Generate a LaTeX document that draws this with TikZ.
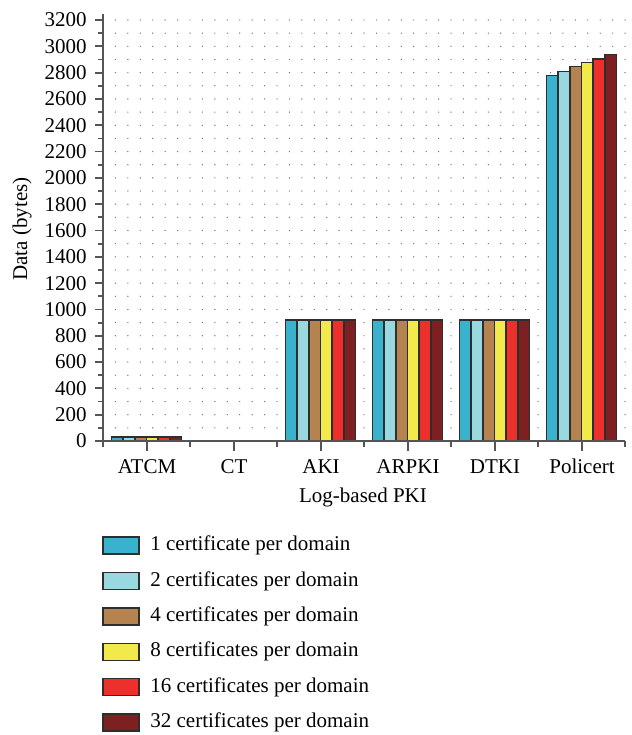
\documentclass[tikz,border=0pt]{standalone}
\usepackage{fontspec}
\setmainfont{Liberation Serif}
\definecolor{cA}{HTML}{3AB1CD}
\definecolor{cB}{HTML}{9AD8E0}
\definecolor{cC}{HTML}{B5834F}
\definecolor{cD}{HTML}{F2E94A}
\definecolor{cE}{HTML}{EE302C}
\definecolor{cF}{HTML}{7E2022}
\definecolor{axisgray}{HTML}{555555}
\definecolor{edgegray}{HTML}{2E2E2E}
\tikzset{
  axisline/.style={draw=axisgray, line width=1.1pt},
  tickline/.style={draw=axisgray, line width=0.9pt},
  barbox/.style={draw=edgegray, line width=0.7pt},
  ticklabel/.style={anchor=east, inner sep=0pt},
  catlabel/.style={anchor=base, inner sep=0pt},
}
\begin{document}
\begin{tikzpicture}[x=0.5pt, y=-0.5pt,
  font=\fontsize{10.5}{12}\selectfont,
  declare function={yv(\v)=441-0.1315625*\v;}]
\useasboundingbox (0,0) rectangle (632,735);

% dotted background grid
\foreach \k in {1,...,42}
  \foreach \j in {1,...,32}
    \fill[black!55] ({103+12.43*\k},{yv(100*\j)}) circle (0.7);

% bars: ATCM and the three equal groups
\foreach \i/\c in {1/cA,2/cB,3/cC,4/cD,5/cE,6/cF}{
  \path[barbox, fill=\c] ({111.5+11.667*(\i-1)},441) rectangle ({111.5+11.667*\i},{yv(30)});
  \foreach \g in {2,3,4}
    \path[barbox, fill=\c] ({111.5+87*\g+11.667*(\i-1)},441) rectangle ({111.5+87*\g+11.667*\i},{yv(920)});
}
% bars: Policert
\foreach \i/\c/\v in {1/cA/2780,2/cB/2810,3/cC/2845,4/cD/2875,5/cE/2905,6/cF/2940}
  \path[barbox, fill=\c] ({111.5+87*5+11.667*(\i-1)},441) rectangle ({111.5+87*5+11.667*\i},{yv(\v)});

% axes
\draw[axisline] (103,447) -- (103,14);
\draw[axisline] (103,441) -- (625,441);

% y ticks and labels
\foreach \v in {0,200,...,3200}{
  \draw[tickline] (95,{yv(\v)}) -- (103,{yv(\v)});
  \node[ticklabel] at (87,{yv(\v)}) {\v};
}
\foreach \v in {100,300,...,3100}
  \draw[tickline] (98,{yv(\v)}) -- (103,{yv(\v)});

% x ticks and category labels
\foreach \k/\t in {0/ATCM,1/CT,2/AKI,3/ARPKI,4/DTKI,5/Policert}{
  \draw[tickline] ({147+87*\k},441) -- ({147+87*\k},451);
  \node[catlabel] at ({147+87*\k},473) {\t};
}
\foreach \k in {1,...,6}
  \draw[tickline] ({103+87*\k},441) -- ({103+87*\k},447);

% axis titles
\node at (363,497) {Log-based PKI};
\node[rotate=90] at (22,229) {Data (bytes)};

% legend
\foreach \i/\c/\t in {0/cA/1 certificate per domain,
                      1/cB/2 certificates per domain,
                      2/cC/4 certificates per domain,
                      3/cD/8 certificates per domain,
                      4/cE/16 certificates per domain,
                      5/cF/32 certificates per domain}{
  \path[barbox, fill=\c] (103,{537+35.4*\i}) rectangle (139,{554+35.4*\i});
  \node[anchor=west, inner sep=0pt] at (150,{545.5+35.4*\i}) {\t};
}
\end{tikzpicture}
\end{document}
